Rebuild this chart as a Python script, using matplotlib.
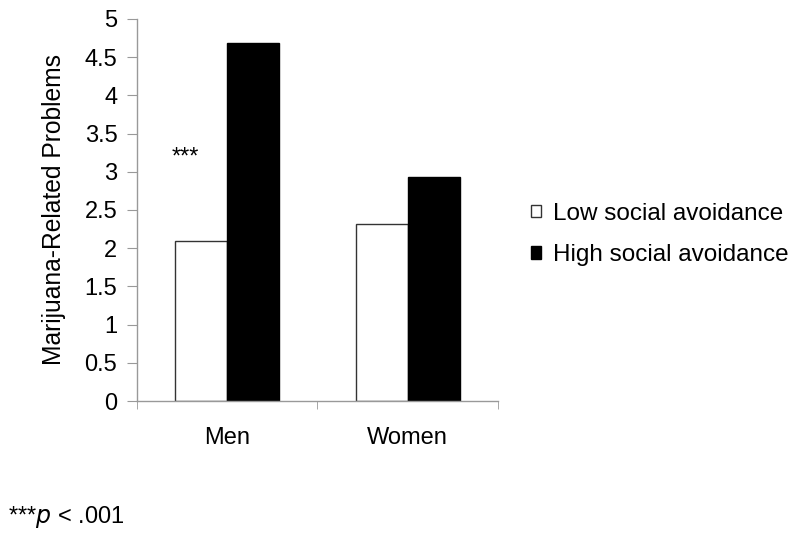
import matplotlib
matplotlib.use("Agg")
import matplotlib.pyplot as plt
import numpy as np

categories = ["Men", "Women"]
series_names = ["Low social avoidance", "High social avoidance"]
low_values = [2.10, 2.31]
high_values = [4.69, 2.93]
yticks = [0, 0.5, 1, 1.5, 2, 2.5, 3, 3.5, 4, 4.5, 5]
ytick_labels = ["0", "0.5", "1", "1.5", "2", "2.5", "3", "3.5", "4", "4.5", "5"]

plt.rcParams['font.family'] = ['Liberation Sans', 'DejaVu Sans']

fig = plt.figure(figsize=(8, 5.39), dpi=100)
ax = fig.add_axes([0.171, 0.256, 0.4515, 0.709])

x = np.arange(len(categories))
w = 0.287
ax.bar(x - w/2, low_values, w, color="white", edgecolor="#333333", linewidth=1.0, label=series_names[0])
ax.bar(x + w/2, high_values, w, color="black", edgecolor="black", linewidth=1.0, label=series_names[1])

ax.set_xlim(-0.5, 1.5)
ax.set_ylim(0, 5)
ax.set_yticks(yticks)
ax.set_yticklabels(ytick_labels, fontsize=17)
ax.set_xticks(x)
ax.set_xticklabels(categories, fontsize=17)
ax.tick_params(axis='x', which='major', length=0, pad=19)
ax.set_xticks([-0.5, 0.5, 1.5], minor=True)
ax.tick_params(axis='x', which='minor', length=6, direction='out', color='#999999')
ax.tick_params(axis='y', length=7, direction='out', color='#999999', pad=7)

for s in ['top', 'right']:
    ax.spines[s].set_visible(False)
for s in ['left', 'bottom']:
    ax.spines[s].set_color('#999999')
    ax.spines[s].set_linewidth(1.0)

ax.set_ylabel("Marijuana-Related Problems", fontsize=17.7)
ax.yaxis.set_label_coords(-0.196, 0.5)

ax.text(-0.233, 3.18, "***", fontsize=17, ha='center', va='center')

leg = fig.legend(loc='center left', bbox_to_anchor=(0.637, 0.565), frameon=False,
                 fontsize=17.5, handlelength=0.4, handleheight=0.4, handletextpad=0.5,
                 labelspacing=0.8)

fig.text(0.01, 0.04, r"***$\it{p}$ < .001", fontsize=17, ha='left', va='center')

fig.savefig("out.png", dpi=100)
